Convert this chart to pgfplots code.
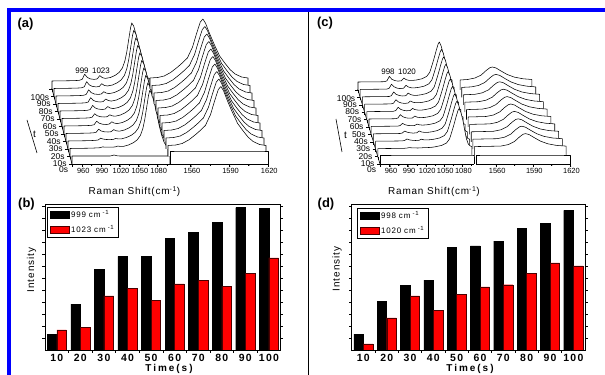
\documentclass[border=0pt]{standalone}
\usepackage{pgfplots}
\pgfplotsset{compat=1.18}
\usepackage{pgfplotstable}
\usepackage{fontspec}
\setmainfont{Liberation Sans}
\newfontfamily\tickfont[LetterSpace=12]{Liberation Sans}
\newfontfamily\labfont[LetterSpace=20]{Liberation Sans}
\newfontfamily\legfont[LetterSpace=10]{Liberation Sans}
\newfontfamily\ramanfont[LetterSpace=8]{Liberation Sans}
\definecolor{frameblue}{RGB}{0,0,255}
\definecolor{barred}{RGB}{255,0,0}

% (a) left segment: Raman shift, intensity of traces 0s..100s
\pgfplotstableread{
R I0 I1 I2 I3 I4 I5 I6 I7 I8 I9 I10
944 0 0 0 0 0 0 0 0 0 0 0
944 8 8 8 8 8 8 8 8 8 8 8
975 8 8.3 8.3 8.3 8.3 8.3 8.3 8.3 8.3 8.3 8.3
987 8 8.6 8.6 8.6 8.6 8.6 8.6 8.6 8.6 8.6 8.6
992 8 8.8 9.0 9.2 9.3 9.3 9.4 9.4 9.5 9.6 9.6
996 8 9.6 10.8 12.3 12.8 12.8 13.6 13.8 14.2 14.8 14.8
1000 8 9.3 9.9 10.5 10.8 10.8 11.1 11.2 11.4 11.7 11.7
1005 8 9.3 9.5 9.7 9.8 9.8 9.9 9.9 10.0 10.1 10.1
1011 9 9.3 9.4 9.5 9.5 9.5 9.5 9.5 9.6 9.6 9.6
1016 8.2 9.6 9.6 9.8 9.9 9.8 9.9 9.9 9.9 10.0 10.1
1020 8 10.4 10.5 11.9 12.2 11.7 12.4 12.5 12.3 12.8 13.4
1024 8 10.1 10.1 10.7 10.9 10.6 11.0 11.0 10.9 11.1 11.4
1029 8 10.1 10.1 10.3 10.4 10.3 10.4 10.4 10.4 10.5 10.6
1037 8 11.5 11.5 11.5 11.5 11.5 11.5 11.5 11.5 11.5 11.5
1045 8 13.8 13.8 13.8 13.8 13.8 13.8 13.8 13.8 13.8 13.8
1051 8 16.7 16.7 16.7 16.7 16.7 16.7 16.7 16.7 16.7 16.7
1056 8 21 21 21 21 21 21 21 21 21 21
1060 8 28 28 28 28 28 28 28 28 28 28
1063 8 37 37 37 37 37 37 37 37 37 37
1066 8 49 49 49 49 49 49 49 49 49 49
1069 8 61 61 61 61 61 61 61 61 61 61
1071 8 66 66 66 66 66 66 66 66 66 66
1074 8 63 63 63 63 63 63 63 63 63 63
1078 8 54 54 54 54 54 54 54 54 54 54
1082 8 43 43 43 43 43 43 43 43 43 43
1086 8 31 31 31 31 31 31 31 31 31 31
1090 8 21 21 21 21 21 21 21 21 21 21
1094 8 14 14 14 14 14 14 14 14 14 14
1097 8 11 11 11 11 11 11 11 11 11 11
1100 8 10 10 10 10 10 10 10 10 10 10
1100 0 0 0 0 0 0 0 0 0 0 0
}\tabAL

% (a) right segment: I0 = 0s trace, In = traces 10s..100s
\pgfplotstableread{
R I0 In
1544 0 0
1544 13 11
1550 13 11.5
1555 13 13
1560 13 16.5
1565 13 21.5
1569 13 26
1573 13 31
1577 13 42
1580 13 55
1583 13 67
1585 13 70
1587 13 66
1590 13 56
1594 13 44
1598 13 33
1602 13 26
1606 13 19.5
1610 13 15
1615 13 12
1620 13 11
1620 0 0
}\tabAR

% (c) left segment
\pgfplotstableread{
R I0 I1 I2 I3 I4 I5 I6 I7 I8 I9 I10
944 0 0 0 0 0 0 0 0 0 0 0
944 9 8.0 8.0 8.0 8.0 8.0 8.0 8.0 8.0 8.0 8.0
980 9 8.2 8.2 8.2 8.2 8.2 8.2 8.2 8.2 8.2 8.2
988 9 8.3 8.3 8.3 8.3 8.3 8.3 8.3 8.3 8.3 8.3
992 9 8.5 8.7 8.8 8.8 9.0 9.0 9.0 9.1 9.1 9.2
996 9 9.0 10.2 10.8 11.0 12.3 12.3 12.5 12.9 13.2 13.6
1000 9 8.8 9.3 9.6 9.7 10.3 10.3 10.3 10.5 10.7 10.8
1005 9 8.7 8.9 9.0 9.0 9.2 9.2 9.2 9.3 9.3 9.4
1010 9 8.6 8.7 8.7 8.7 8.8 8.8 8.8 8.8 8.8 8.9
1016 9 8.7 8.9 9.0 8.9 9.0 9.1 9.1 9.1 9.2 9.2
1020 9 9.0 10.0 10.8 10.3 10.9 11.2 11.2 11.7 12.1 12.0
1024 9 9.0 9.4 9.8 9.6 9.8 10.0 10.0 10.2 10.4 10.3
1029 9 9.1 9.3 9.4 9.3 9.4 9.5 9.5 9.5 9.6 9.6
1035 9 9.4 9.5 9.5 9.5 9.5 9.5 9.5 9.5 9.6 9.6
1041 9 10.0 10.0 10.0 10.0 10.0 10.0 10.0 10.0 10.0 10.0
1050 9 11.2 11.2 11.2 11.2 11.2 11.2 11.2 11.2 11.2 11.2
1058 9 13.6 13.6 13.6 13.6 13.6 13.6 13.6 13.6 13.6 13.6
1063 9 17.6 17.6 17.6 17.6 17.6 17.6 17.6 17.6 17.6 17.6
1066 9 23.2 23.2 23.2 23.2 23.2 23.2 23.2 23.2 23.2 23.2
1070 9 31.2 31.2 31.2 31.2 31.2 31.2 31.2 31.2 31.2 31.2
1074 9 40.0 40.0 40.0 40.0 40.0 40.0 40.0 40.0 40.0 40.0
1077 9 46.0 46.0 46.0 46.0 46.0 46.0 46.0 46.0 46.0 46.0
1079 9 48.0 48.0 48.0 48.0 48.0 48.0 48.0 48.0 48.0 48.0
1082 9 44.0 44.0 44.0 44.0 44.0 44.0 44.0 44.0 44.0 44.0
1085 9 36.8 36.8 36.8 36.8 36.8 36.8 36.8 36.8 36.8 36.8
1088 9 27.2 27.2 27.2 27.2 27.2 27.2 27.2 27.2 27.2 27.2
1091 9 18.0 18.0 18.0 18.0 18.0 18.0 18.0 18.0 18.0 18.0
1094 9 12.8 12.8 12.8 12.8 12.8 12.8 12.8 12.8 12.8 12.8
1097 9 10.8 10.8 10.8 10.8 10.8 10.8 10.8 10.8 10.8 10.8
1100 9 10.0 10.0 10.0 10.0 10.0 10.0 10.0 10.0 10.0 10.0
1100 0 0 0 0 0 0 0 0 0 0 0
}\tabCL

% (c) right segment: per-trace Raman shift columns, common intensity profile In
\pgfplotstableread{
R0 I0 R1 R2 R3 R4 R5 R6 R7 R8 R9 R10 In
1544 0 1544.5 1545 1545.5 1546 1546.5 1547 1547.5 1548 1548.5 1549 0
1544 9 1544.5 1545 1545.5 1546 1546.5 1547 1547.5 1548 1548.5 1549 10
1550 9 1565.8 1564.6 1563.4 1562.2 1561 1559.8 1558.6 1557.4 1556.2 1555 10.5
1556 9 1571.8 1570.6 1569.4 1568.2 1567 1565.8 1564.6 1563.4 1562.2 1561 12
1562 9 1576.8 1575.6 1574.4 1573.2 1572 1570.8 1569.6 1568.4 1567.2 1566 15
1568 9 1580.8 1579.6 1578.4 1577.2 1576 1574.8 1573.6 1572.4 1571.2 1570 19.5
1574 9 1583.8 1582.6 1581.4 1580.2 1579 1577.8 1576.6 1575.4 1574.2 1573 22.3
1580 9 1585.8 1584.6 1583.4 1582.2 1581 1579.8 1578.6 1577.4 1576.2 1575 23
1586 9 1588.8 1587.6 1586.4 1585.2 1584 1582.8 1581.6 1580.4 1579.2 1578 22
1592 9 1592.8 1591.6 1590.4 1589.2 1588 1586.8 1585.6 1584.4 1583.2 1582 19
1598 9 1597.8 1596.6 1595.4 1594.2 1593 1591.8 1590.6 1589.4 1588.2 1587 15.5
1604 9 1603.8 1602.6 1601.4 1600.2 1599 1597.8 1596.6 1595.4 1594.2 1593 12.8
1610 9 1610.8 1609.6 1608.4 1607.2 1606 1604.8 1603.6 1602.4 1601.2 1600 11.2
1620 9 1618.7 1617.4 1616.1 1614.8 1613.5 1612.2 1610.9 1609.6 1608.3 1607 10.5
1620 0 1618.7 1617.4 1616.1 1614.8 1613.5 1612.2 1610.9 1609.6 1608.3 1607 0
}\tabCR

\pgfplotsset{
  wf/.style={
    clip=false,
    axis lines*=left,
    hide z axis,
    zmin=0, zmax=80,
    ymin=0, ymax=101,
    tick align=outside,
    major tick length=3bp,
    minor tick length=2bp,
    tick style={black, line width=0.5bp},
    axis line style={black, line width=0.6bp},
    xticklabel style={font=\fontsize{7.5}{8}\selectfont, inner sep=1bp},
    yticklabel style={font=\fontsize{8.5}{9}\selectfont, inner sep=1bp},
  },
  wline/.style={black, line width=0.55bp, fill=white, mark=none, line join=round},
  barax/.style={
    anchor=south west, scale only axis,
    width=235.7bp, height=145.7bp,
    xmin=0.5, xmax=10.5, ymin=0, ymax=12.14,
    ybar=0pt, bar width=9.6bp,
    axis line style={black, line width=0.8bp},
    xtick={1,...,10}, xticklabels={10,20,30,40,50,60,70,80,90,100},
    major x tick style={draw=none},
    minor xtick={1.5,2.5,...,9.5},
    xtick pos=left,
    ytick={1,...,12}, yticklabels={,,,,,,,,,,,},
    tick align=outside, major tick length=2.5bp, minor tick length=2.5bp,
    tick style={black, line width=0.6bp},
    xticklabel style={font=\fontsize{10.5}{12}\tickfont\bfseries, inner sep=1bp},
    xlabel={Time(s)},
    ylabel={Intensity},
    xlabel style={font=\fontsize{10}{12}\labfont\bfseries, anchor=center},
    ylabel style={font=\fontsize{10}{12}\legfont, anchor=center},
    legend style={draw=black, line width=0.6bp, font=\fontsize{8}{9}\legfont,
      row sep=2.5bp, inner xsep=2bp, inner ysep=1.5bp, anchor=north west,
      legend cell align=left},
    legend image code/.code={\draw[#1, line width=0.5bp] (0bp,-3.5bp) rectangle (19bp,3.5bp);},
  },
}

\begin{document}
\begin{tikzpicture}
\useasboundingbox (0,0) rectangle (605bp,375bp);
\fill[white] (0,0) rectangle (605bp,375bp);

% ---------- (a) waterfall ----------
\begin{axis}[wf, anchor=origin, at={(72bp,211bp)},
  x={(0.6282bp,0bp)}, y={(-0.2bp,0.75bp)}, z={(0bp,1bp)},
  xmin=944, xmax=1100,
  xtick={960,990,1020,1050,1080}, xticklabels={960,990,1020,1050,1080},
  minor xtick={975,1005,1035,1065,1095},
  ytick={0,10,...,100}, yticklabels={0s,10s,20s,30s,40s,50s,60s,70s,80s,90s,100s}]
\pgfplotsinvokeforeach{10,9,8,7,6,5,4,3,2,1}{
  \addplot3[wline] table[x=R, y expr=#10, z=I#1]{\tabAL};
}
\addplot3[wline] table[x=R, y expr=0, z=I0]{\tabAL};
\end{axis}

\begin{axis}[wf, anchor=origin, at={(170bp,211bp)},
  x={(1.2895bp,0bp)}, y={(-0.2bp,0.75bp)}, z={(0bp,1bp)},
  xmin=1544, xmax=1620, hide y axis,
  xtick={1560,1590,1620}, xticklabels={1560,1590,1620},
  minor xtick={1575,1605}]
\pgfplotsinvokeforeach{10,9,8,7,6,5,4,3,2,1}{
  \addplot3[wline] table[x=R, y expr=#10, z=In]{\tabAR};
}
\addplot3[wline] table[x=R, y expr=0, z=I0]{\tabAR};
\end{axis}

% ---------- (c) waterfall ----------
\begin{axis}[wf, anchor=origin, at={(380bp,211bp)},
  x={(0.6026bp,0bp)}, y={(-0.22bp,0.74bp)}, z={(0bp,1bp)},
  xmin=944, xmax=1100,
  xtick={960,990,1020,1050,1080}, xticklabels={960,990,1020,1050,1080},
  minor xtick={975,1005,1035,1065,1095},
  ytick={0,10,...,100}, yticklabels={0s,10s,20s,30s,40s,50s,60s,70s,80s,90s,100s}]
\pgfplotsinvokeforeach{10,9,8,7,6,5,4,3,2,1}{
  \addplot3[wline] table[x=R, y expr=#10, z=I#1]{\tabCL};
}
\addplot3[wline] table[x=R, y expr=0, z=I0]{\tabCL};
\end{axis}

\begin{axis}[wf, anchor=origin, at={(476bp,211bp)},
  x={(1.2368bp,0bp)}, y={(-0.22bp,0.74bp)}, z={(0bp,1bp)},
  xmin=1544, xmax=1620, hide y axis,
  xtick={1560,1590,1620}, xticklabels={1560,1590,1620},
  minor xtick={1575,1605}]
\pgfplotsinvokeforeach{10,9,8,7,6,5,4,3,2,1}{
  \addplot3[wline] table[x=R#1, y expr=#10, z=In]{\tabCR};
}
\addplot3[wline] table[x=R0, y expr=0, z=I0]{\tabCR};
\end{axis}

% ---------- (b) bars ----------
\begin{axis}[barax, at={(45bp,25bp)},
  xlabel style={at={(axis description cs:0.526,-0.127)}},
  ylabel style={at={(axis description cs:-0.057,0.55)}},
  legend style={at={(0.0098,0.9835)}}]
\addplot[fill=black, draw=black] coordinates {(1,1.33) (2,3.83) (3,6.72) (4,7.81) (5,7.81) (6,9.33) (7,9.83) (8,10.64) (9,11.86) (10,11.78)};
\addplot[fill=barred, draw=black!70!barred] coordinates {(1,1.67) (2,1.86) (3,4.5) (4,5.14) (5,4.14) (6,5.5) (7,5.83) (8,5.31) (9,6.39) (10,7.67)};
\legend{999 cm\textsuperscript{ -1}, 1023 cm\textsuperscript{ -1}}
\end{axis}

% ---------- (d) bars ----------
\begin{axis}[barax, at={(351.7bp,25bp)}, width=233.3bp,
  xlabel style={at={(axis description cs:0.507,-0.127)}},
  ylabel style={at={(axis description cs:-0.063,0.556)}},
  legend style={at={(0.024,0.977)}}]
\addplot[fill=black, draw=black] coordinates {(1,1.33) (2,4.08) (3,5.36) (4,5.83) (5,8.56) (6,8.67) (7,9.08) (8,10.11) (9,10.58) (10,11.64)};
\addplot[fill=barred, draw=black!70!barred] coordinates {(1,0.5) (2,2.67) (3,4.5) (4,3.33) (5,4.64) (6,5.25) (7,5.44) (8,6.39) (9,7.25) (10,7.0)};
\legend{998 cm\textsuperscript{ -1}, 1020 cm\textsuperscript{ -1}}
\end{axis}

% ---------- texts and frame ----------
\node[font=\fontsize{8}{9}\selectfont] at (82bp,304.5bp) {999};
\node[font=\fontsize{8}{9}\selectfont] at (101bp,304.5bp) {1023};
\node[font=\fontsize{8}{9}\selectfont] at (388bp,303bp) {998};
\node[font=\fontsize{8}{9}\selectfont] at (407bp,303bp) {1020};
\node[font=\fontsize{10}{11}\ramanfont] at (134.5bp,183.5bp) {Raman Shift(cm\textsuperscript{-1})};
\node[font=\fontsize{10}{11}\ramanfont] at (434bp,183.5bp) {Raman Shift(cm\textsuperscript{-1})};
\draw[black, line width=0.6bp] (27bp,255bp) -- (37bp,222bp);
\node[font=\fontsize{10}{11}\selectfont] at (34.5bp,240.5bp) {t};
\draw[black, line width=0.6bp] (336bp,256bp) -- (342bp,223bp);
\node[font=\fontsize{10}{11}\selectfont] at (345.5bp,240bp) {t};
\node[font=\fontsize{13}{14}\selectfont\bfseries] at (25.5bp,351bp) {(a)};
\node[font=\fontsize{13}{14}\selectfont\bfseries] at (325bp,352bp) {(c)};
\node[font=\fontsize{13}{14}\selectfont\bfseries] at (26.5bp,171bp) {(b)};
\node[font=\fontsize{13}{14}\selectfont\bfseries] at (326bp,171bp) {(d)};
\fill[frameblue] (7bp,363bp) rectangle (605bp,367bp);
\fill[frameblue] (7bp,0bp) rectangle (11bp,367bp);
\fill[black] (307.7bp,0bp) rectangle (309bp,363bp);
\end{tikzpicture}
\end{document}
